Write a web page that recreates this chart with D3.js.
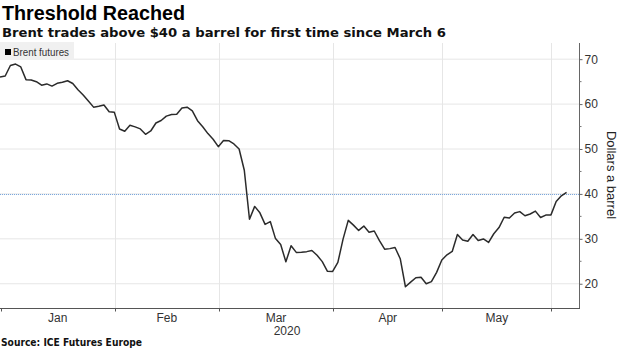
<!DOCTYPE html>
<html>
<head>
<meta charset="utf-8">
<script src="https://cdn.jsdelivr.net/npm/d3@7"></script>
<style>
  html, body { margin: 0; padding: 0; background: #fff; }
  svg { display: block; font-family: "Liberation Sans", Arial, sans-serif; }
</style>
</head>
<body>
<svg id="chart" width="620" height="348"></svg>
<script>
// ---- Data ----
const title = "Threshold Reached";
const subtitle = "Brent trades above $40 a barrel for first time since March 6";
const source = "Source: ICE Futures Europe";
const seriesName = "Brent futures";
const axisTitle = "Dollars a barrel";
const yearLabel = "2020";

const dates = [
  "2019-12-31",
  "2020-01-02","2020-01-03","2020-01-06","2020-01-07","2020-01-08","2020-01-09","2020-01-10",
  "2020-01-13","2020-01-14","2020-01-15","2020-01-16","2020-01-17","2020-01-20","2020-01-21",
  "2020-01-22","2020-01-23","2020-01-24","2020-01-27","2020-01-28","2020-01-29","2020-01-30","2020-01-31",
  "2020-02-03","2020-02-04","2020-02-05","2020-02-06","2020-02-07","2020-02-10","2020-02-11",
  "2020-02-12","2020-02-13","2020-02-14","2020-02-17","2020-02-18","2020-02-19","2020-02-20",
  "2020-02-21","2020-02-24","2020-02-25","2020-02-26","2020-02-27","2020-02-28",
  "2020-03-02","2020-03-03","2020-03-04","2020-03-05","2020-03-06","2020-03-09","2020-03-10",
  "2020-03-11","2020-03-12","2020-03-13","2020-03-16","2020-03-17","2020-03-18","2020-03-19",
  "2020-03-20","2020-03-23","2020-03-24","2020-03-25","2020-03-26","2020-03-27","2020-03-30","2020-03-31",
  "2020-04-01","2020-04-02","2020-04-03","2020-04-06","2020-04-07","2020-04-08","2020-04-09",
  "2020-04-13","2020-04-14","2020-04-15","2020-04-16","2020-04-17","2020-04-20","2020-04-21",
  "2020-04-22","2020-04-23","2020-04-24","2020-04-27","2020-04-28","2020-04-29","2020-04-30",
  "2020-05-01","2020-05-04","2020-05-05","2020-05-06","2020-05-07","2020-05-08","2020-05-11",
  "2020-05-12","2020-05-13","2020-05-14","2020-05-15","2020-05-18","2020-05-19","2020-05-20",
  "2020-05-21","2020-05-22","2020-05-25","2020-05-26","2020-05-27","2020-05-28","2020-05-29",
  "2020-06-01","2020-06-02","2020-06-03"
];

const prices = [
  66.00,
  66.25,68.60,68.91,68.27,65.44,65.37,64.98,
  64.20,64.49,64.00,64.62,64.85,65.20,64.59,
  63.21,62.04,60.69,59.32,59.51,59.81,58.29,58.16,
  54.45,53.96,55.28,54.93,54.47,53.27,54.01,
  55.79,56.34,57.32,57.67,57.75,59.12,59.31,
  58.50,56.30,54.95,53.43,52.18,50.52,
  51.90,51.86,51.13,49.99,45.27,34.36,37.22,
  35.79,33.22,33.85,30.05,28.73,24.88,28.47,
  26.98,27.03,27.15,27.39,26.34,24.93,22.76,22.74,
  24.74,29.94,34.11,33.05,31.87,32.84,31.48,
  31.74,29.60,27.69,27.82,28.08,25.57,19.33,
  20.37,21.33,21.44,19.99,20.46,22.54,25.27,
  26.44,27.20,30.97,29.72,29.46,30.97,29.63,
  29.98,29.19,31.13,32.50,34.81,34.65,35.75,
  36.06,35.13,35.53,36.17,34.74,35.29,35.33,
  38.32,39.57,40.35
];

const yTicks = [20, 30, 40, 50, 60, 70];
const yMinorTicks = [25, 35, 45, 55, 65];
const thresholdValue = 40;
const monthLabels = ["Jan", "Feb", "Mar", "Apr", "May"];

// ---- Layout ----
const svg = d3.select("#chart");
const plot = { left: 0, right: 579, top: 43, bottom: 308 };

const x = d3.scaleLinear().domain([0, 111.2]).range([plot.left, 578]);
const y = d3.scaleLinear().domain([14.6, 73.6]).range([plot.bottom, plot.top]);

const parse = d3.timeParse("%Y-%m-%d");
const data = dates.map((d, i) => ({ i, date: parse(d), v: prices[i] }));

// month boundaries (just before the first trading day of each month in 2020)
const monthStarts = [];
data.forEach((d, k) => {
  if (d.date.getFullYear() === 2020 && (k === 0 || d.date.getMonth() !== data[k - 1].date.getMonth() || data[k-1].date.getFullYear() !== 2020)) {
    monthStarts.push(d.i - 0.9);
  }
});

// ---- Gridlines ----
const grid = svg.append("g");
grid.selectAll("line.h").data(yTicks).join("line")
  .attr("x1", plot.left).attr("x2", plot.right)
  .attr("y1", d => y(d)).attr("y2", d => y(d))
  .attr("stroke", "#e6e6e6").attr("stroke-width", 1);
grid.selectAll("line.v").data(monthStarts.slice(1)).join("line")
  .attr("x1", d => Math.round(x(d)) + 0.5).attr("x2", d => Math.round(x(d)) + 0.5)
  .attr("y1", plot.top).attr("y2", plot.bottom)
  .attr("stroke", "#e6e6e6").attr("stroke-width", 1);

// threshold dotted line
svg.append("line")
  .attr("x1", plot.left).attr("x2", plot.right)
  .attr("y1", Math.round(y(thresholdValue)) + 0.5).attr("y2", Math.round(y(thresholdValue)) + 0.5)
  .attr("stroke", "#7aa7dd").attr("stroke-width", 1)
  .attr("stroke-dasharray", "1,1");

// ---- Legend ----
const leg = svg.append("g");
leg.append("rect").attr("x", 0).attr("y", 42).attr("width", 74).attr("height", 18).attr("fill", "#f0f0f0");
leg.append("rect").attr("x", 5).attr("y", 49).attr("width", 6).attr("height", 6).attr("fill", "#000");
leg.append("text").attr("x", 13).attr("y", 56).attr("font-size", 10.5).attr("fill", "#333")
  .attr("textLength", 56).attr("lengthAdjust", "spacingAndGlyphs").text(seriesName);

// ---- Line ----
const line = d3.line().x(d => x(d.i)).y(d => y(d.v)).curve(d3.curveLinear);
svg.append("path").datum(data)
  .attr("d", line).attr("fill", "none")
  .attr("stroke", "#2b2b2b").attr("stroke-width", 1.5)
  .attr("stroke-linejoin", "round");

// ---- Right y-axis ----
const yAxis = d3.axisRight(y).tickValues(yTicks).tickSize(3).tickPadding(2).tickFormat(d3.format("d"));
const ya = svg.append("g").attr("transform", `translate(${plot.right + 0.5},0)`).call(yAxis);
ya.select(".domain").attr("d", `M0,${plot.top}V${plot.bottom}`).attr("stroke", "#666");
ya.selectAll(".tick line").attr("stroke", "#666");
ya.selectAll(".tick text").attr("font-size", 12).attr("fill", "#333")
  .attr("font-family", "'Liberation Sans', Arial, sans-serif");
ya.selectAll("line.minor").data(yMinorTicks).join("line").attr("class", "minor")
  .attr("x1", 0).attr("x2", 2).attr("y1", d => y(d)).attr("y2", d => y(d)).attr("stroke", "#777");

svg.append("text")
  .attr("transform", `translate(607,175) rotate(90)`)
  .attr("text-anchor", "middle").attr("font-size", 13).attr("fill", "#222")
  .text(axisTitle);

// ---- Bottom x-axis ----
const xa = svg.append("g").attr("transform", `translate(0,${plot.bottom + 0.5})`);
xa.append("line").attr("x1", 0).attr("x2", plot.right + 1).attr("y1", 0).attr("y2", 0).attr("stroke", "#555");
xa.selectAll("line.t").data(monthStarts).join("line").attr("class", "t")
  .attr("x1", d => Math.max(0.5, Math.round(x(d)) + 0.5)).attr("x2", d => Math.max(0.5, Math.round(x(d)) + 0.5))
  .attr("y1", 0).attr("y2", 3).attr("stroke", "#555");
xa.selectAll("text.m").data(monthLabels).join("text").attr("class", "m")
  .attr("x", (d, k) => (Math.max(0, x(monthStarts[k])) + x(monthStarts[k + 1])) / 2)
  .attr("y", 13).attr("text-anchor", "middle").attr("font-size", 12).attr("fill", "#333")
  .text(d => d);
xa.append("text").attr("x", (x.range()[0] + x.range()[1]) / 2 - 2).attr("y", 26)
  .attr("text-anchor", "middle").attr("font-size", 12).attr("fill", "#333").text(yearLabel);

// ---- Titles ----
svg.append("text").attr("x", 2).attr("y", 20).attr("font-size", 20).attr("font-weight", "bold")
  .attr("fill", "#000").attr("textLength", 183).attr("lengthAdjust", "spacingAndGlyphs").text(title);
svg.append("text").attr("x", 2).attr("y", 37).attr("font-size", 13).attr("font-weight", "bold")
  .style("font-family", "'DejaVu Sans', Verdana, sans-serif")
  .attr("fill", "#111").attr("textLength", 444).attr("lengthAdjust", "spacingAndGlyphs").text(subtitle);
svg.append("text").attr("x", 1).attr("y", 346).attr("font-size", 10).attr("font-weight", "bold")
  .style("font-family", "'DejaVu Sans', Verdana, sans-serif")
  .attr("fill", "#111").attr("textLength", 141).attr("lengthAdjust", "spacingAndGlyphs").text(source);
</script>
</body>
</html>
